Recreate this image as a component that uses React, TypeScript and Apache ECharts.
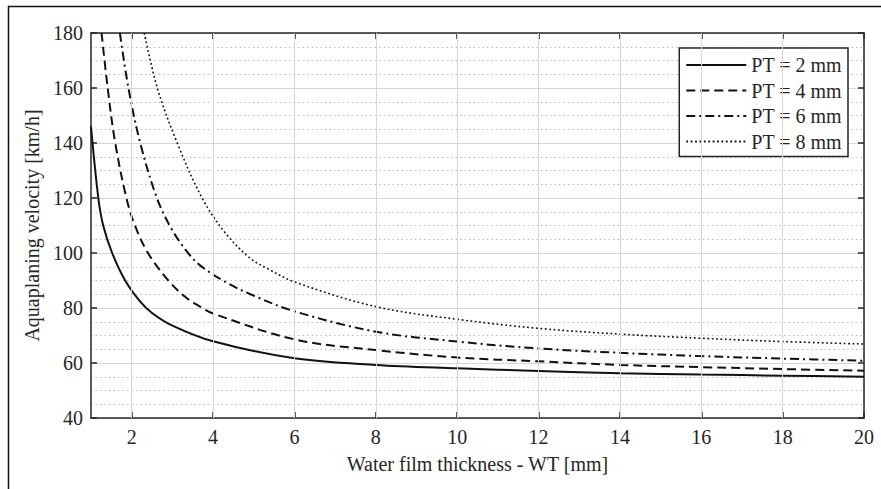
import React, { useEffect, useRef } from "react";
import * as echarts from "echarts";

// ---- data ----
const xMajorTicks = [2, 4, 6, 8, 10, 12, 14, 16, 18, 20];
const seriesNames = ["PT = 2 mm", "PT = 4 mm", "PT = 6 mm", "PT = 8 mm"];

const pt2X = [1, 1.18, 1.3, 1.52, 1.84, 2.2, 2.5, 3, 4, 6, 8, 10, 12, 14, 16, 18, 20];
const pt2Y = [146, 120, 110, 100, 90, 82.5, 78.2, 73.6, 67.9, 61.7, 59.3, 58.1, 57.1, 56.3, 55.8, 55.4, 55.0];

const pt4X = [1.26, 1.41, 1.59, 1.87, 2.08, 2.4, 2.9, 3.32, 3.68, 4, 6, 8, 10, 12, 14, 16, 18, 20];
const pt4Y = [180, 160, 140.5, 120, 110, 100, 90, 84, 80.5, 78, 68.6, 64.7, 62.0, 60.6, 59.3, 58.5, 57.8, 57.2];

const pt6X = [1.71, 1.92, 2.21, 2.62, 2.97, 3.36, 3.68, 4.3, 4.92, 6, 8, 10, 12, 14, 16, 18, 20];
const pt6Y = [180, 160, 140, 120, 109, 100.5, 95.5, 89.5, 85, 78.8, 71.4, 67.8, 65.3, 63.7, 62.5, 61.6, 60.8];

const pt8X = [2.31, 2.63, 3.12, 3.73, 4.3, 4.92, 5.33, 6, 8, 10, 12, 14, 16, 18, 20];
const pt8Y = [180, 160, 140, 120, 107.3, 98, 94.4, 89.5, 80.5, 75.9, 72.6, 70.5, 69.0, 67.8, 66.9];

const FONT = '"Liberation Serif", "Times New Roman", serif';
const TXT = "#262626";
const AX = "#262626";

const zip = (xs: number[], ys: number[]) => xs.map((x, i) => [x, ys[i]]);

export default function App() {
  const ref = useRef<HTMLDivElement>(null);
  useEffect(() => {
    const chart = echarts.init(ref.current!, null, { renderer: "svg" });
    const lineSeries = (name: string, data: number[][], type: any, width: number) => ({
      type: "line",
      name,
      data,
      xAxisIndex: 0,
      yAxisIndex: 0,
      symbol: "none",
      showSymbol: false,
      smooth: 0.35,
      clip: true,
      z: 3,
      lineStyle: { color: "#111", width, type },
      itemStyle: { color: "#111" },
    });
    chart.setOption({
      animation: false,
      backgroundColor: "#fff",
      textStyle: { fontFamily: FONT },
      grid: { left: 91, top: 33, right: 17, bottom: 71, containLabel: false, outerBoundsMode: "none" },
      legend: {
        data: seriesNames,
        orient: "vertical",
        right: 33,
        top: 48,
        padding: [7, 6, 5, 6],
        itemWidth: 60,
        itemHeight: 14,
        itemGap: 5.5,
        backgroundColor: "#fff",
        borderColor: AX,
        borderWidth: 1.5,
        borderRadius: 0,
        itemStyle: { opacity: 0, color: "transparent", borderColor: "transparent", borderWidth: 0 },
        textStyle: { fontFamily: FONT, fontSize: 20, lineHeight: 20, color: TXT },
      },
      xAxis: [
        {
          type: "value",
          min: 1,
          max: 20,
          interval: 0.5,
          position: "bottom",
          axisLine: { show: true, onZero: false, lineStyle: { color: AX, width: 1.5 } },
          axisTick: { show: true, inside: true, length: 6, customValues: xMajorTicks, lineStyle: { color: AX, width: 1.5 } },
          axisLabel: {
            customValues: xMajorTicks,
            margin: 9,
            fontSize: 20,
            fontFamily: FONT,
            color: TXT,
            formatter: (v: number) => (v % 2 === 0 ? String(v) : ""),
          },
          splitLine: { show: true, lineStyle: { color: "#b8b8b8", type: [1.5, 3], width: 1 } },
          name: "Water film thickness - WT [mm]",
          nameLocation: "middle",
          nameGap: 36,
          nameTextStyle: { fontFamily: FONT, fontSize: 20, color: TXT },
        },
        {
          type: "value",
          min: 1,
          max: 20,
          interval: 0.5,
          position: "top",
          axisLine: { show: true, onZero: false, lineStyle: { color: AX, width: 1.5 } },
          axisTick: { show: true, inside: true, length: 6, customValues: xMajorTicks, lineStyle: { color: AX, width: 1.5 } },
          axisLabel: { show: false },
          splitLine: { show: false },
        },
      ],
      yAxis: [
        {
          type: "value",
          min: 40,
          max: 180,
          interval: 20,
          position: "left",
          axisLine: { show: true, onZero: false, lineStyle: { color: AX, width: 1.5 } },
          axisTick: { show: true, inside: true, length: 6, lineStyle: { color: AX, width: 1.5 } },
          axisLabel: { margin: 8, fontSize: 20, fontFamily: FONT, color: TXT },
          splitLine: { show: true, lineStyle: { color: "#d6d6d6", width: 1 } },
          minorTick: { show: false, splitNumber: 4 },
          minorSplitLine: { show: true, lineStyle: { color: "#b8b8b8", type: [1.5, 3], width: 1 } },
          name: "Aquaplaning velocity [km/h]",
          nameLocation: "middle",
          nameGap: 44,
          nameTextStyle: { fontFamily: FONT, fontSize: 20, color: TXT },
        },
        {
          type: "value",
          min: 40,
          max: 180,
          interval: 20,
          position: "right",
          axisLine: { show: true, onZero: false, lineStyle: { color: AX, width: 1.5 } },
          axisTick: { show: true, inside: true, length: 6, lineStyle: { color: AX, width: 1.5 } },
          axisLabel: { show: false },
          splitLine: { show: false },
        },
      ],
      series: [
        {
          type: "line",
          name: "majorGrid",
          data: [],
          xAxisIndex: 0,
          yAxisIndex: 0,
          z: 1,
          silent: true,
          markLine: {
            silent: true,
            symbol: ["none", "none"],
            label: { show: false },
            lineStyle: { color: "#d6d6d6", type: "solid", width: 1 },
            emphasis: { disabled: true },
            data: xMajorTicks.filter((v) => v < 20).map((v) => ({ xAxis: v })),
          },
        },
        lineSeries(seriesNames[0], zip(pt2X, pt2Y), "solid", 2),
        lineSeries(seriesNames[1], zip(pt4X, pt4Y), [9, 5], 2),
        lineSeries(seriesNames[2], zip(pt6X, pt6Y), [9, 4, 2, 4], 2),
        lineSeries(seriesNames[3], zip(pt8X, pt8Y), [1.8, 2.6], 1.6),
      ],
      graphic: [
        { type: "line", shape: { x1: 8, y1: 6.5, x2: 881, y2: 6.5 }, style: { stroke: "#111", lineWidth: 1.5 }, silent: true },
        { type: "line", shape: { x1: 8.5, y1: 6, x2: 8.5, y2: 489 }, style: { stroke: "#111", lineWidth: 1.5 }, silent: true },
      ],
    });
    return () => chart.dispose();
  }, []);
  return (
    <div
      ref={ref}
      style={{ position: "fixed", left: 0, top: 0, width: 881, height: 489, background: "#fff" }}
    />
  );
}
